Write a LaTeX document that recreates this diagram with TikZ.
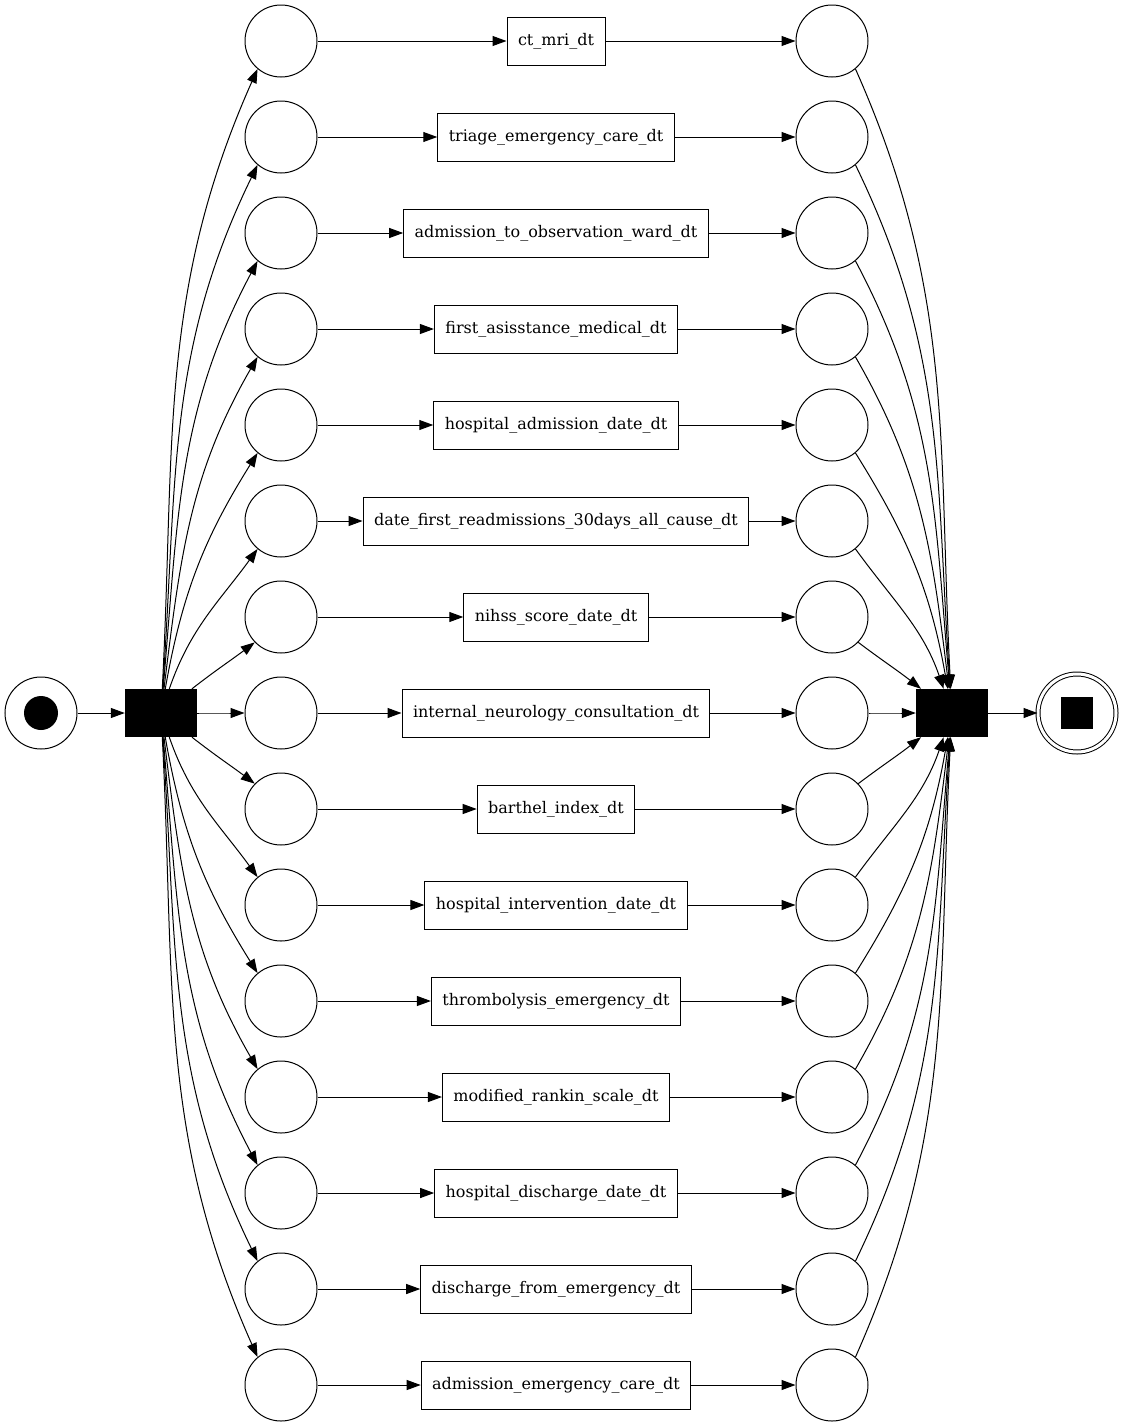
\documentclass[tikz,border=0pt]{standalone}
\usepackage{fontspec}
\setmainfont{DejaVu Serif}
\usetikzlibrary{arrows.meta}
\tikzset{place/.style = {draw, circle, minimum size = 72pt, inner sep = 0, line width = 1pt}}
\tikzset{task/.style = {draw, rectangle, minimum width = 72pt, minimum height = 48pt,
                        inner xsep = 11pt, inner ysep = 0, line width = 1pt,
                        font = \fontsize{16}{19}\selectfont}}
\tikzset{bar/.style = {fill, rectangle, minimum width = 72pt, minimum height = 48pt, inner sep = 0}}
\tikzset{arc/.style = {line width = 1pt, -{Triangle[length = 14pt, width = 10pt]}}}

\begin{document}
\begin{tikzpicture}[x = 1pt, y = 1pt]
    \useasboundingbox (0, 0) rectangle (1124, -1427);

    \node [place] (start) at (41, -713) {};
    \fill (start) circle [radius = 17];
    \node [bar] (split) at (161, -713) {};
    \node [bar] (join) at (952, -713) {};
    \node [place, minimum size = 78pt, double, double distance = 3pt] (end) at (1077, -713) {};
    \node [fill, rectangle, minimum size = 32pt, inner sep = 0] (endmark) at (end) {};

    \draw [arc] (start) -- (split);
    \draw [arc] (join) -- (end);

    % out angle / in angle / anchor on the place
    \foreach \i/\lbl/\ao/\ai/\ae [evaluate = \ai as \bo using int(180 - \ai),
                                  evaluate = \ao as \bi using int(180 - \ao),
                                  evaluate = \ae as \be using int(180 - \ae)] in
        {0/ct\_mri\_dt/87/246/230,
         1/triage\_emergency\_care\_dt/86/244/230,
         2/admission\_to\_observation\_ward\_dt/85/242/230,
         3/first\_asisstance\_medical\_dt/83/240/230,
         4/hospital\_admission\_date\_dt/80/238/230,
         5/date\_first\_readmissions\_30days\_all\_cause\_dt/71/234/230,
         6/nihss\_score\_date\_dt/38/217/224,
         7/internal\_neurology\_consultation\_dt/0/180/180,
         8/barthel\_index\_dt/-38/143/136,
         9/hospital\_intervention\_date\_dt/-71/126/130,
         10/thrombolysis\_emergency\_dt/-80/122/130,
         11/modified\_rankin\_scale\_dt/-83/120/130,
         12/hospital\_discharge\_date\_dt/-85/118/130,
         13/discharge\_from\_emergency\_dt/-86/116/130,
         14/admission\_emergency\_care\_dt/-87/114/130} {
        \node [place] (p\i) at (281, {-41 - 96*\i}) {};
        \node [task] (t\i) at (556, {-41 - 96*\i}) {\lbl};
        \node [place] (q\i) at (832, {-41 - 96*\i}) {};
        \draw [arc] (split) to [out = \ao, in = \ai] (p\i.\ae);
        \draw [arc] (p\i) -- (t\i);
        \draw [arc] (t\i) -- (q\i);
        \draw [arc] (q\i.\be) to [out = \bo, in = \bi] (join);
    }
\end{tikzpicture}
\end{document}
